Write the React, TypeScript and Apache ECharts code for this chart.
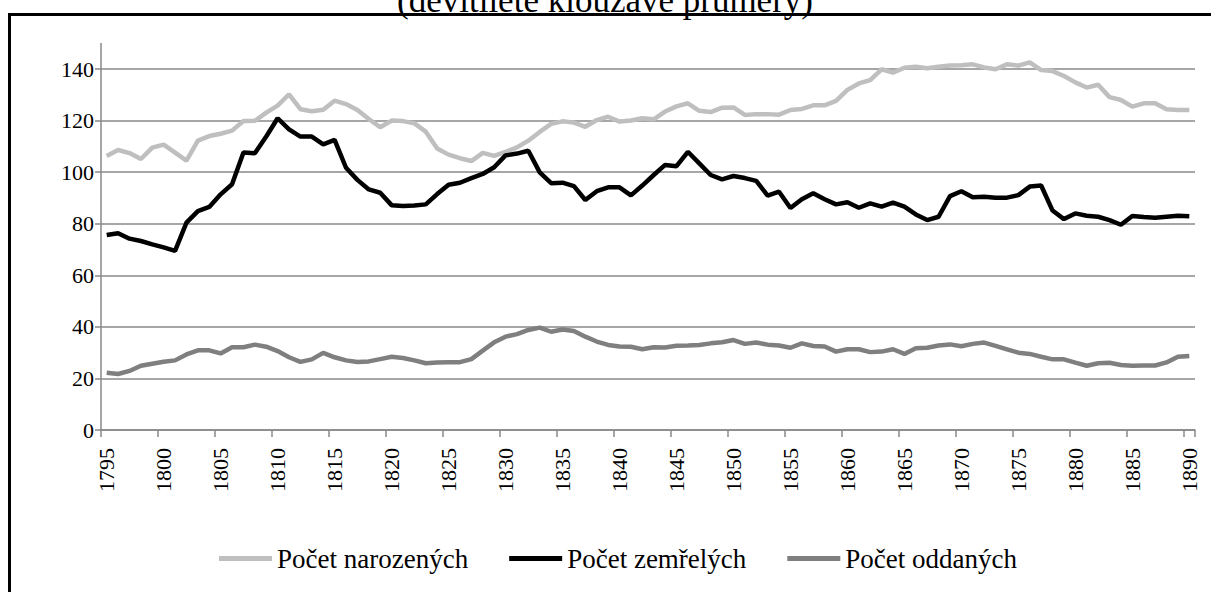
import React, { useEffect, useRef } from "react";
import * as echarts from "echarts";

const years: string[] = [];
for (let y = 1795; y <= 1890; y++) years.push(String(y));

const narozenych = [
  106.3, 108.6, 107.4, 105.1, 109.5, 110.7, 107.6, 104.5, 112.2, 114.0,
  114.9, 116.1, 119.8, 119.9, 123.1, 125.8, 130.2, 124.4, 123.6, 124.2,
  127.7, 126.4, 124.1, 120.6, 117.4, 120.0, 119.8, 118.9, 115.7, 109.2,
  106.8, 105.4, 104.3, 107.5, 106.3, 107.9, 109.6, 112.2, 115.6, 118.7,
  119.7, 119.2, 117.6, 120.2, 121.5, 119.6, 120.0, 120.9, 120.5, 123.5,
  125.5, 126.7, 123.8, 123.3, 125.0, 125.1, 122.2, 122.5, 122.5, 122.3,
  124.1, 124.5, 125.9, 125.9, 127.6, 131.9, 134.4, 135.7, 139.9, 138.6,
  140.5, 140.9, 140.3, 140.9, 141.4, 141.5, 141.8, 140.6, 139.9, 141.8,
  141.3, 142.6, 139.6, 139.2, 137.3, 134.8, 132.8, 133.9, 129.1, 128.0,
  125.4, 126.7, 126.7, 124.4, 124.1, 124.1,
];

const zemrelych = [
  75.6, 76.3, 74.2, 73.3, 72.0, 70.8, 69.5, 80.4, 84.9, 86.5,
  91.4, 95.3, 107.6, 107.3, 113.8, 120.9, 116.6, 113.8, 113.8, 110.8,
  112.5, 101.7, 97.0, 93.3, 92.0, 87.2, 86.9, 87.1, 87.5, 91.5,
  95.1, 95.9, 97.7, 99.3, 101.9, 106.5, 107.2, 108.3, 99.9, 95.7,
  95.9, 94.6, 89.2, 92.6, 94.1, 94.1, 91.0, 94.8, 98.9, 102.8,
  102.3, 107.9, 103.4, 98.9, 97.2, 98.5, 97.7, 96.6, 90.9, 92.4,
  86.1, 89.5, 91.8, 89.5, 87.5, 88.3, 86.2, 87.9, 86.6, 88.2,
  86.6, 83.6, 81.4, 82.7, 90.7, 92.6, 90.3, 90.5, 90.1, 90.1,
  91.1, 94.4, 94.8, 85.1, 81.8, 84.0, 83.1, 82.7, 81.4, 79.6,
  83.0, 82.6, 82.3, 82.7, 83.1, 82.9,
];

const oddanych = [
  22.2, 21.7, 22.9, 24.9, 25.7, 26.5, 27.0, 29.3, 30.9, 30.9,
  29.7, 32.1, 32.1, 33.1, 32.3, 30.6, 28.2, 26.4, 27.4, 29.9,
  28.2, 27.0, 26.4, 26.6, 27.5, 28.4, 27.9, 27.0, 25.9, 26.2,
  26.3, 26.3, 27.5, 30.8, 34.0, 36.2, 37.2, 38.8, 39.7, 38.1,
  39.0, 38.4, 36.2, 34.3, 33.0, 32.4, 32.3, 31.3, 32.1, 32.0,
  32.7, 32.8, 33.0, 33.6, 34.0, 34.9, 33.4, 33.9, 33.1, 32.8,
  31.9, 33.6, 32.6, 32.4, 30.4, 31.3, 31.3, 30.2, 30.4, 31.3,
  29.5, 31.7, 31.9, 32.8, 33.2, 32.5, 33.4, 33.9, 32.6, 31.3,
  30.0, 29.5, 28.4, 27.4, 27.4, 26.1, 24.9, 25.9, 26.1, 25.2,
  24.9, 25.0, 25.0, 26.2, 28.4, 28.7,
];

const seriesNames = ["Počet narozených", "Počet zemřelých", "Počet oddaných"];
const seriesColors = ["#BFBFBF", "#000000", "#7F7F7F"];
const titleText = "(devítileté klouzavé průměry)";

const FONT = "Liberation Serif";
const GRID = "#888888";

export default function App() {
  const ref = useRef<HTMLDivElement>(null);
  useEffect(() => {
    if (!ref.current) return;
    const chart = echarts.init(ref.current, undefined, { renderer: "svg" });
    const data = [narozenych, zemrelych, oddanych];
    chart.setOption({
      animation: false,
      backgroundColor: "#ffffff",
      textStyle: { fontFamily: FONT },
      grid: { left: 101, right: 16, top: 69, bottom: 162, containLabel: false },
      xAxis: {
        type: "category",
        data: years,
        boundaryGap: true,
        axisLine: { show: true, lineStyle: { color: GRID, width: 1.5 } },
        axisTick: { show: true, interval: 4, length: 7, lineStyle: { color: GRID, width: 1.5 } },
        axisLabel: {
          interval: 4,
          rotate: 90,
          color: "#000",
          fontFamily: FONT,
          fontSize: 22,
          margin: 18,
        },
        splitLine: { show: false },
      },
      yAxis: {
        type: "value",
        min: 0,
        max: 140,
        interval: 20,
        axisLine: { show: true, lineStyle: { color: GRID, width: 1.5 } },
        axisTick: { show: true, length: 6, lineStyle: { color: GRID, width: 1.5 } },
        axisLabel: { color: "#000", fontFamily: FONT, fontSize: 22, margin: 7 },
        splitLine: { show: true, lineStyle: { color: GRID, width: 1.5 } },
      },
      legend: {
        left: 214,
        top: 540,
        itemWidth: 53,
        itemHeight: 5,
        itemGap: 41,
        icon: "rect",
        textStyle: { color: "#000", fontFamily: FONT, fontSize: 27 },
        data: seriesNames,
      },
      graphic: [
        {
          type: "rect",
          shape: { x: 9.5, y: 14.5, width: 1400, height: 800 },
          style: { fill: "none", stroke: "#000", lineWidth: 3 },
          silent: true,
        },
        {
          type: "line",
          shape: { x1: 101, y1: 43, x2: 101, y2: 69 },
          style: { stroke: GRID, lineWidth: 1.5 },
          silent: true,
        },
        {
          type: "text",
          x: 605,
          y: 18,
          style: {
            text: titleText,
            textAlign: "center",
            textVerticalAlign: "bottom",
            fontFamily: FONT,
            fontSize: 35,
            fill: "#000",
          },
          silent: true,
        },
      ],
      series: seriesNames.map((name, i) => ({
        name,
        type: "line",
        data: data[i],
        symbol: "none",
        showSymbol: false,
        clip: false,
        color: seriesColors[i],
        lineStyle: { color: seriesColors[i], width: 4.5 },
        itemStyle: { color: seriesColors[i] },
      })),
    });
    return () => chart.dispose();
  }, []);
  return (
    <div
      ref={ref}
      style={{ position: "fixed", left: 0, top: 0, width: 1211, height: 592 }}
    />
  );
}
